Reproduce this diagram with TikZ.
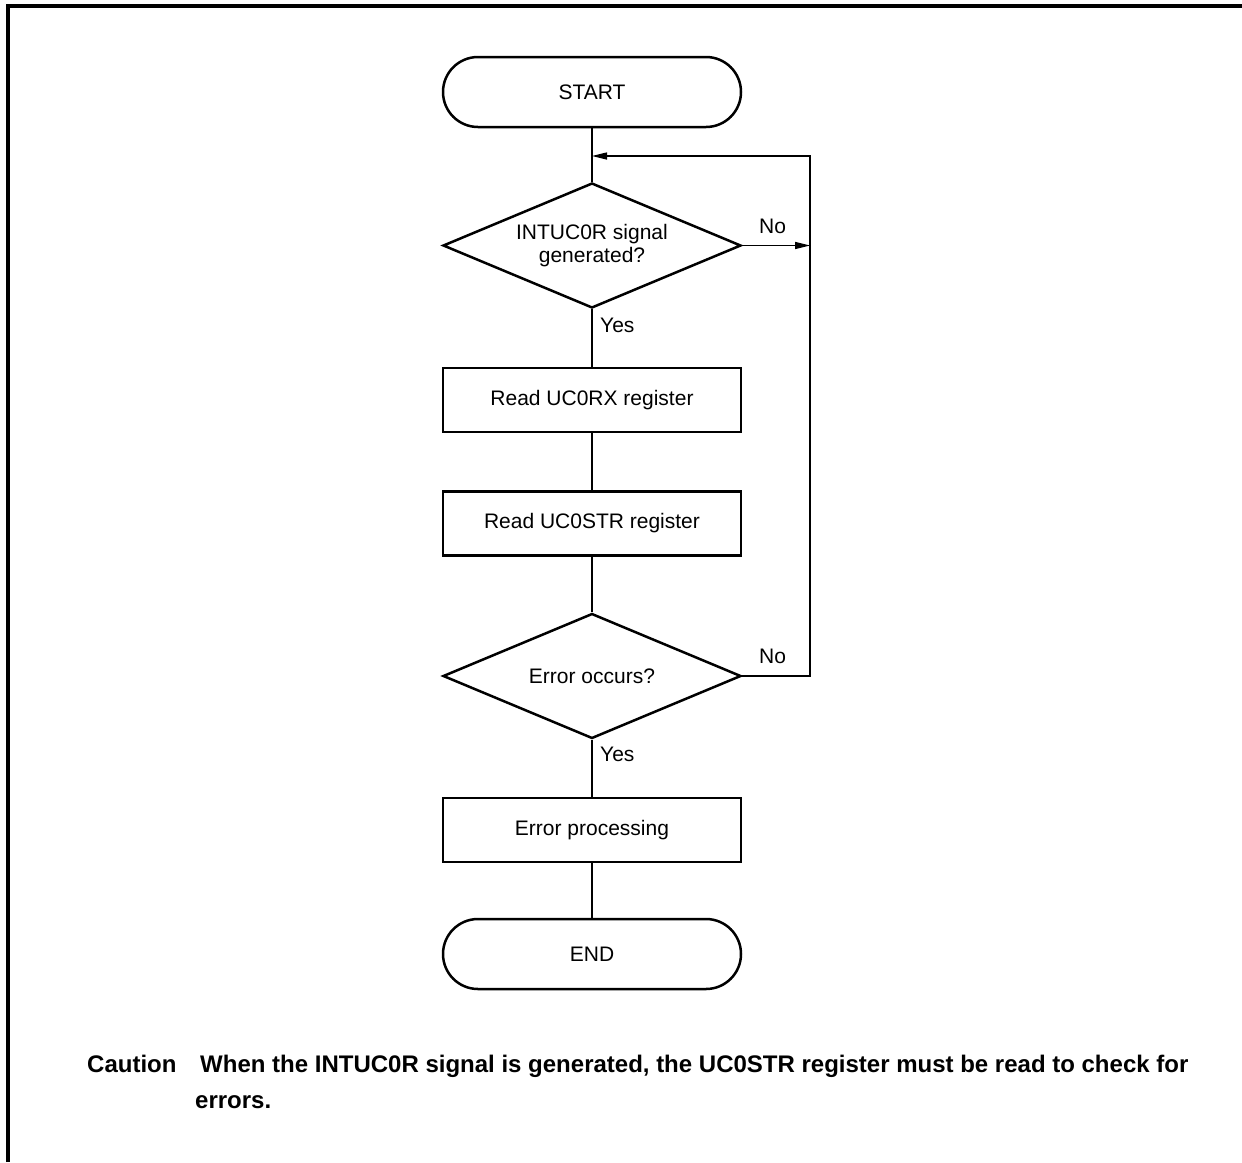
\documentclass[tikz,border=0pt]{standalone}
\usepackage{fontspec}
\setmainfont{Liberation Sans}
\usetikzlibrary{shapes.geometric,arrows.meta}
\tikzset{
  >={Triangle[length=15pt,width=7pt]},
  chart/.style={font=\fontsize{21}{23}\selectfont},
  term/.style={chart,draw,line width=2.5pt,rounded corners=35pt,minimum width=298pt,minimum height=70pt,inner sep=0pt},
  proc/.style={chart,draw,line width=2.5pt,minimum width=298pt,minimum height=64pt,inner sep=0pt},
  decide/.style={chart,draw,diamond,aspect=2.384,line width=2.5pt,minimum width=298pt,minimum height=125pt,inner sep=0pt,align=center},
  flow/.style={line width=1.3pt},
  lbl/.style={chart,inner sep=0pt,anchor=base west},
  note/.style={font=\fontsize{24}{36}\selectfont\bfseries,inner sep=0pt,anchor=base west}
}
\begin{document}
\begin{tikzpicture}[x=1pt,y=-1pt]
\useasboundingbox (0,0) rectangle (1242,1162);
\draw[line width=4pt] (8,1162) -- (8,6) -- (1242,6);

\node[term] (start) at (592,92) {START};
\node[decide] (d1) at (592,245.5) {INTUC0R signal\\generated?};
\node[proc] (p1) at (592,400) {Read UC0RX register};
\node[proc] (p2) at (592,523.5) {Read UC0STR register};
\node[decide] (d2) at (592,676) {Error occurs?};
\node[proc] (p3) at (592,830) {Error processing};
\node[term] (stop) at (592,954) {END};

\coordinate (join) at (592,156);
\coordinate (rt) at (810,156);

\draw[flow] (start) -- (d1);
\draw[flow] (d1) -- (p1);
\draw[flow] (p1) -- (p2);
\draw[flow] (p2) -- (d2);
\draw[flow] (d2) -- (p3);
\draw[flow] (p3) -- (stop);
\draw[flow,->] (d1.east) -- (d1.east -| rt);
\draw[flow,->] (d2.east) -| (rt) -- (join);

\node[lbl] (no1) at (759,233) {No};
\node[lbl] (yes1) at (600,332) {Yes};
\node[lbl] (no2) at (759,663) {No};
\node[lbl] (yes2) at (600,761) {Yes};

\node[note] (caution) at (87,1072) {Caution};
\node[note] (line1) at (200,1072) {When the INTUC0R signal is generated, the UC0STR register must be read to check for};
\node[note] (line2) at (195,1108) {errors.};
\end{tikzpicture}
\end{document}
